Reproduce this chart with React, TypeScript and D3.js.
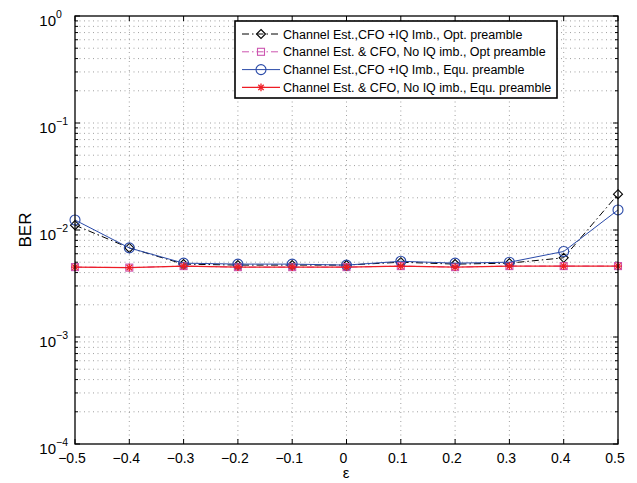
import React from "react";
import * as d3 from "d3";

const eps = [-0.5, -0.4, -0.3, -0.2, -0.1, 0, 0.1, 0.2, 0.3, 0.4, 0.5];
const berOptIQ = [0.0111, 0.0068, 0.0048, 0.0047, 0.0047, 0.0047, 0.005, 0.0048, 0.0049, 0.0055, 0.0216];
const berOptNoIQ = [0.0045, 0.00445, 0.0046, 0.0045, 0.0045, 0.0045, 0.0046, 0.0045, 0.0046, 0.0046, 0.0046];
const berEquIQ = [0.0124, 0.0068, 0.0049, 0.0048, 0.0048, 0.0047, 0.0051, 0.0049, 0.005, 0.0063, 0.0154];
const berEquNoIQ = [0.0045, 0.00445, 0.0046, 0.0045, 0.0045, 0.0045, 0.0046, 0.0045, 0.0046, 0.0046, 0.0046];
const xTicks = [-0.5, -0.4, -0.3, -0.2, -0.1, 0, 0.1, 0.2, 0.3, 0.4, 0.5];
const yExps = [0, -1, -2, -3, -4];
const legendLabels = [
  "Channel Est.,CFO +IQ Imb., Opt. preamble",
  "Channel Est. & CFO, No IQ imb., Opt preamble",
  "Channel Est.,CFO +IQ Imb., Equ. preamble",
  "Channel Est. & CFO, No IQ imb., Equ. preamble",
];

const L = 75, R = 618, T = 16, B = 444;
const FONT = "Liberation Sans, Arial, Helvetica, sans-serif";

type MarkerKind = "diamond" | "square" | "circle" | "star";

function Marker({ kind, x, y, color }: { kind: MarkerKind; x: number; y: number; color: string }) {
  if (kind === "diamond") {
    const s = 4.5;
    return <path d={`M${x},${y - s}L${x + s},${y}L${x},${y + s}L${x - s},${y}Z`} fill="none" stroke={color} strokeWidth={1.1} />;
  }
  if (kind === "square") {
    const s = 3.5;
    return <rect x={x - s} y={y - s} width={2 * s} height={2 * s} fill="none" stroke={color} strokeWidth={1.1} />;
  }
  if (kind === "circle") {
    return <circle cx={x} cy={y} r={5} fill="none" stroke={color} strokeWidth={1.1} />;
  }
  const s = 3.8;
  const d = s * 0.707;
  return (
    <g stroke={color} strokeWidth={1.3}>
      <line x1={x - s} y1={y} x2={x + s} y2={y} />
      <line x1={x} y1={y - s} x2={x} y2={y + s} />
      <line x1={x - d} y1={y - d} x2={x + d} y2={y + d} />
      <line x1={x - d} y1={y + d} x2={x + d} y2={y - d} />
    </g>
  );
}

export default function App() {
  const x = d3.scaleLinear().domain([-0.5, 0.5]).range([L, R]);
  const y = d3.scaleLog().domain([1e-4, 1]).range([B, T]);

  const series = [
    { data: berOptIQ, color: "#000000", kind: "diamond" as MarkerKind, dash: "7,3,1.5,3", width: 1 },
    { data: berOptNoIQ, color: "#cc55b0", kind: "square" as MarkerKind, dash: "7,3,1.5,3", width: 1 },
    { data: berEquIQ, color: "#2a4aa8", kind: "circle" as MarkerKind, dash: "", width: 1 },
    { data: berEquNoIQ, color: "#ee1c24", kind: "star" as MarkerKind, dash: "", width: 1.2 },
  ];

  const line = d3.line<number>().x((_, i) => x(eps[i])).y((v) => y(v));

  const minor: number[] = [];
  for (let e = -4; e < 0; e++) for (let m = 2; m <= 9; m++) minor.push(m * Math.pow(10, e));
  const majors = yExps.map((e) => Math.pow(10, e));

  const fmt = (v: number) => (v < 0 ? "\u2212" + Math.abs(v).toString() : v.toString());

  const lgX = 235, lgY = 21, lgW = 322, lgH = 77;

  return (
    <svg width={637} height={483} style={{ display: "block", position: "absolute", left: 0, top: 0 }} fontFamily={FONT}>
      <rect x={0} y={0} width={637} height={483} fill="#fff" />
      {/* grid */}
      <g stroke="#888" strokeWidth={0.8} strokeDasharray="1,3.5">
        {xTicks.slice(1, -1).map((t) => (
          <line key={"gx" + t} x1={x(t)} x2={x(t)} y1={T} y2={B} />
        ))}
        {[...minor, ...majors.slice(1, -1)].map((v, i) => (
          <line key={"gy" + i} x1={L} x2={R} y1={y(v)} y2={y(v)} />
        ))}
      </g>
      {/* ticks */}
      <g stroke="#000" strokeWidth={1}>
        {xTicks.map((t) => (
          <g key={"tx" + t}>
            <line x1={x(t)} x2={x(t)} y1={B} y2={B - 5} />
            <line x1={x(t)} x2={x(t)} y1={T} y2={T + 5} />
          </g>
        ))}
        {majors.map((v, i) => (
          <g key={"ty" + i}>
            <line x1={L} x2={L + 5} y1={y(v)} y2={y(v)} />
            <line x1={R} x2={R - 5} y1={y(v)} y2={y(v)} />
          </g>
        ))}
        {minor.map((v, i) => (
          <g key={"tm" + i}>
            <line x1={L} x2={L + 3} y1={y(v)} y2={y(v)} />
            <line x1={R} x2={R - 3} y1={y(v)} y2={y(v)} />
          </g>
        ))}
      </g>
      {/* series */}
      {series.map((s, si) => (
        <g key={"s" + si}>
          <path d={line(s.data) || ""} fill="none" stroke={s.color} strokeWidth={s.width} strokeDasharray={s.dash || undefined} />
          {s.data.map((v, i) => (
            <Marker key={i} kind={s.kind} x={x(eps[i])} y={y(v)} color={s.color} />
          ))}
        </g>
      ))}
      {/* axes box */}
      <rect x={L} y={T} width={R - L} height={B - T} fill="none" stroke="#000" strokeWidth={1.3} />
      {/* x tick labels */}
      <g fontSize={14} textAnchor="middle" fill="#000">
        {xTicks.map((t) => (
          <text key={"lx" + t} x={x(t) - 3} y={463}>{fmt(Math.round(t * 10) / 10)}</text>
        ))}
      </g>
      {/* y tick labels */}
      <g fill="#000">
        {yExps.map((e) => (
          <g key={"ly" + e}>
            <text x={56} y={y(Math.pow(10, e)) + 10} fontSize={15} textAnchor="end">10</text>
            <text x={56} y={y(Math.pow(10, e)) + 2} fontSize={10.5} textAnchor="start">{e < 0 ? "\u2212" + Math.abs(e) : e}</text>
          </g>
        ))}
      </g>
      <text x={346} y={478} fontSize={15} textAnchor="middle">ε</text>
      <text transform={`translate(31,${(T + B) / 2}) rotate(-90)`} fontSize={17} textAnchor="middle">BER</text>
      {/* legend */}
      <g>
        <rect x={lgX} y={lgY} width={lgW} height={lgH} fill="#fff" stroke="#000" strokeWidth={1.6} />
        {series.map((s, i) => {
          const cy = lgY + 13 + i * 17.8;
          return (
            <g key={"lg" + i}>
              <line x1={lgX + 7} x2={lgX + 45} y1={cy} y2={cy} stroke={s.color} strokeWidth={s.width} strokeDasharray={s.dash || undefined} />
              <Marker kind={s.kind} x={lgX + 26} y={cy} color={s.color} />
              <text x={lgX + 48} y={cy + 4.5} fontSize={12.5} fill="#000">{legendLabels[i]}</text>
            </g>
          );
        })}
      </g>
    </svg>
  );
}
